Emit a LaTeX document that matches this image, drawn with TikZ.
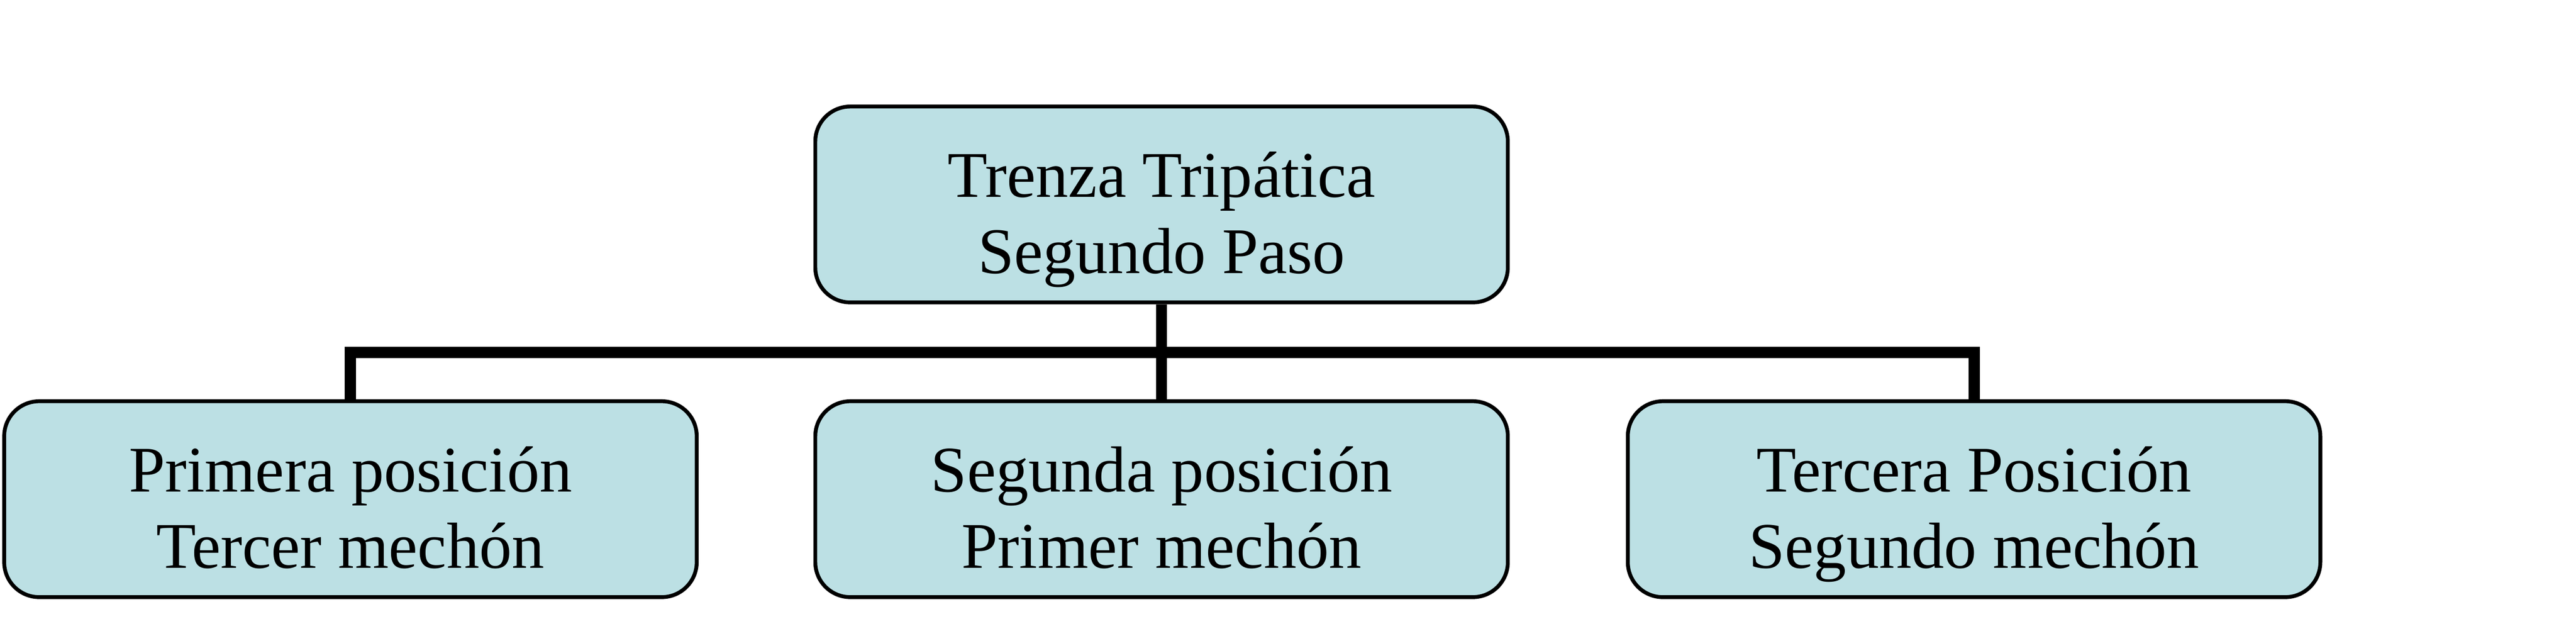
\documentclass[tikz,border=0pt]{standalone}
\usepackage{fontspec}
\setmainfont{Liberation Serif}
\definecolor{boxfill}{RGB}{188,224,228}
\tikzset{
  orgbox/.style={draw=black, line width=0.11cm, fill=boxfill, rounded corners=1cm,
    minimum width=19.8cm, minimum height=5.6cm, inner sep=0pt},
  boxtext/.style={align=center, inner sep=0pt,
    font=\fontsize{53}{62}\selectfont},
  conn/.style={line width=0.32cm, draw=black, line join=miter, line cap=butt}
}
\newcommand{\twolines}[2]{\strut #1\\\strut #2}
\begin{document}
\begin{tikzpicture}
\useasboundingbox (0,0) rectangle (73.65,-18.32);
\node[orgbox] (top) at (33.21,-5.845) {};
\node[orgbox] (b1) at (10.02,-14.27) {};
\node[orgbox] (b2) at (33.21,-14.27) {};
\node[orgbox] (b3) at (56.44,-14.27) {};
\node[boxtext] (topt) at ([yshift=-0.44cm]top.center) {\twolines{Trenza Tripática}{Segundo Paso}};
\node[boxtext] (b1t) at ([yshift=-0.44cm]b1.center) {\twolines{Primera posición}{Tercer mechón}};
\node[boxtext] (b2t) at ([yshift=-0.44cm]b2.center) {\twolines{Segunda posición}{Primer mechón}};
\node[boxtext] (b3t) at ([yshift=-0.44cm]b3.center) {\twolines{Tercera Posición}{Segundo mechón}};
\coordinate (bus) at (33.21,-10.07);
\draw[conn] (b1.north) |- (bus) -| (b3.north);
\draw[conn] (top.south) -- (b2.north);
\end{tikzpicture}
\end{document}
